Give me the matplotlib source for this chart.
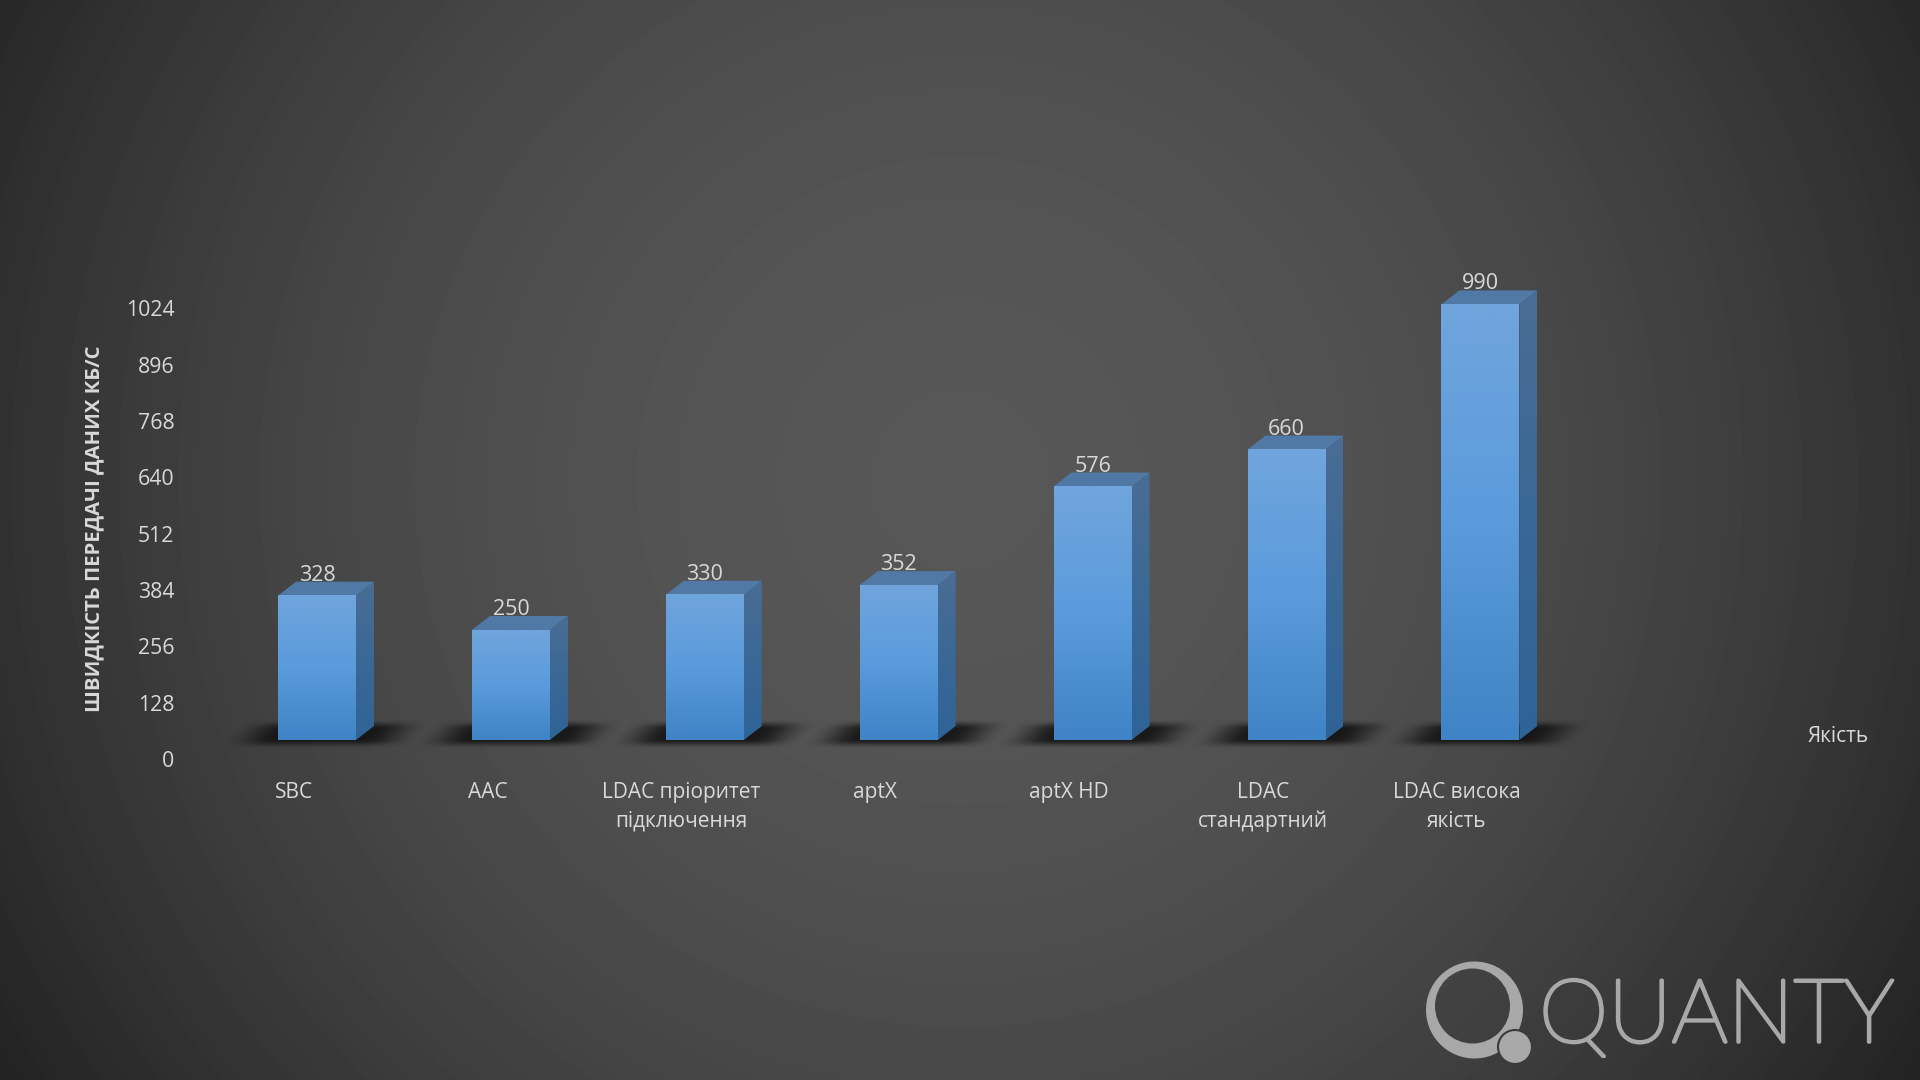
import numpy as np
import matplotlib
matplotlib.use("Agg")
import matplotlib.pyplot as plt
import matplotlib.patheffects as pe
from matplotlib.colors import LinearSegmentedColormap
from matplotlib.patches import Circle, Polygon, PathPatch
from matplotlib.path import Path
from matplotlib.transforms import ScaledTranslation

plt.rcParams['font.family'] = ['Open Sans', 'DejaVu Sans']

categories = ["SBC", "AAC", "LDAC пріоритет\nпідключення", "aptX", "aptX HD",
              "LDAC\nстандартний", "LDAC висока\nякість"]
values = [328, 250, 330, 352, 576, 660, 990]
y_ticks = [0, 128, 256, 384, 512, 640, 768, 896, 1024]
y_title = "ШВИДКІСТЬ ПЕРЕДАЧІ ДАНИХ КБ/С"
x_title = "Якість"
logo_text = "QUANTY"

W, H = 1920, 1080
TXT = "#d9d9d9"
fig = plt.figure(figsize=(W / 100, H / 100), dpi=100)

# background radial gradient + logo layer (pixel coordinates)
bg = fig.add_axes([0, 0, 1, 1], zorder=0)
bg.set_xlim(0, W); bg.set_ylim(H, 0); bg.axis("off")
yy, xx = np.mgrid[0:H, 0:W]
shade = 87 - 38 * ((xx - 960) / 960) ** 2 - 12 * ((yy - 480) / 540) ** 2
bg.imshow(shade, cmap="gray", vmin=0, vmax=255, extent=[0, W, H, 0], aspect="auto", zorder=0)

LOGO = "#a8a8a8"
outer = Path.circle((1474.5, 1010), 48.5)
inner = Path.circle((1472.5, 1006), 37.5)
inner_v = inner.vertices[:-1][::-1]
ring = Path(np.concatenate([outer.vertices, inner_v, inner_v[:1]]),
            np.concatenate([outer.codes, inner.codes]))
bg.add_patch(PathPatch(ring, fc=LOGO, ec="none", zorder=2))
bg.add_patch(Circle((1515, 1047), 17, fc=LOGO, ec="#3a3a3a", lw=1.5, zorder=3))
bg.text(1539, 1042, logo_text, color=LOGO, fontsize=63.5, family="Lato", fontweight="light",
        ha="left", va="baseline", zorder=2,
        path_effects=[pe.withStroke(linewidth=2.5, foreground=LOGO)])

# chart
PX_UNIT = 0.44
BASE = 740
CX0, PITCH = 317, 193.9
LEFT = 180
ax = fig.add_axes([LEFT / W, (H - BASE) / H, (W - LEFT) / W, BASE / H], zorder=1)
ax.patch.set_alpha(0)
ax.set_xlim((LEFT - CX0) / PITCH, (W - CX0) / PITCH)
ax.set_ylim(0, BASE / PX_UNIT)
for s in ax.spines.values():
    s.set_visible(False)

half = 39 / PITCH
dx = 18 / PITCH
dy = 14 / PX_UNIT

front = LinearSegmentedColormap.from_list("front", ["#3f84c6", "#5a9bdc", "#70a5dc"])
side = LinearSegmentedColormap.from_list("side", ["#2f6396", "#3a6896", "#4a6d94"])
grad = np.linspace(0, 1, 256)[::-1].reshape(-1, 1)

# shadow alpha, in pixels relative to the bar centre
sy, sx = np.mgrid[-22:12:80j, -95:110:340j]   # sy: px below base (positive = down)
def sstep(a, b, v):
    t = np.clip((v - a) / (b - a), 0, 1)
    return t * t * (3 - 2 * t)
u = sx + 0.9 * (sy + 5)
shadow = sstep(-90, -35, u) * (1 - sstep(50, 105, u)) * sstep(-21, -11, sy) * (1 - sstep(-1, 9, sy))
rgba = np.zeros(shadow.shape + (4,))
rgba[..., :3] = 0.06
rgba[..., 3] = 0.85 * shadow

for i, v in enumerate(values):
    l, rt = i - half, i + half
    ax.imshow(rgba, origin="upper", aspect="auto", zorder=2, clip_on=False,
              extent=[i - 95 / PITCH, i + 110 / PITCH, -12 / PX_UNIT, 22 / PX_UNIT])
    sp = Polygon([(rt, 0), (rt + dx, dy), (rt + dx, v + dy), (rt, v)], closed=True, fc="none", ec="none", transform=ax.transData)
    ax.add_patch(sp)
    im = ax.imshow(grad, cmap=side, aspect="auto", zorder=3, extent=[rt, rt + dx, 0, v + dy])
    im.set_clip_path(sp)
    ax.add_patch(Polygon([(l, v), (rt, v), (rt + dx, v + dy), (l + dx, v + dy)], closed=True,
                         fc="#5079a6", ec="none", zorder=3))
    ax.imshow(grad, cmap=front, aspect="auto", zorder=4, extent=[l, rt, 0, v])
    ax.annotate(str(v), (i, v), xytext=(0, 20.5 * 0.72), textcoords="offset points", ha="center",
                va="center", color=TXT, fontsize=15.5, zorder=5)

ax.set_xlim((LEFT - CX0) / PITCH, (W - CX0) / PITCH)
ax.set_ylim(0, BASE / PX_UNIT)

ax.set_yticks(y_ticks)
ax.set_yticklabels([str(t) for t in y_ticks])
ax.set_xticks(range(len(categories)))
ax.set_xticklabels(categories, linespacing=1.5)
ax.tick_params(axis="y", length=0, pad=4.0, labelsize=15.3, labelcolor=TXT)
ax.tick_params(axis="x", length=0, pad=30, labelsize=15, labelcolor=TXT)
off_y = ScaledTranslation(0, -19 / 100, fig.dpi_scale_trans)
for t in ax.get_yticklabels():
    t.set_transform(t.get_transform() + off_y)
off_x = ScaledTranslation(-23.5 / 100, 0, fig.dpi_scale_trans)
for t in ax.get_xticklabels():
    t.set_transform(t.get_transform() + off_x)

ax.set_ylabel(y_title, color=TXT, fontsize=14.6, fontweight="bold", va="center", ha="center")
ax.yaxis.set_label_coords((92 - LEFT + 2) / (W - LEFT), (BASE - 529) / BASE)
ax.set_xlabel(x_title, color=TXT, fontsize=15, va="center", ha="center")
ax.xaxis.set_label_coords((1838 - LEFT) / (W - LEFT), (BASE - 737) / BASE)

fig.savefig("out.png", dpi=100)
